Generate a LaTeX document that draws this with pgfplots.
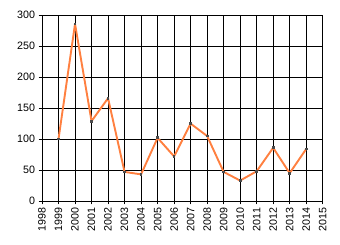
\documentclass[border=0pt]{standalone}
\usepackage{pgfplots}
\pgfplotsset{compat=1.18}
\usepackage{fontspec}
\setmainfont{Liberation Sans}
\definecolor{lineorange}{RGB}{255,128,64}
\begin{document}
\begin{tikzpicture}
\path[use as bounding box] (-42pt,-44pt) rectangle (298pt,201pt);
\begin{axis}[
  at={(0pt,0pt)}, anchor=south west,
  scale only axis, width=280.7pt, height=185.7pt,
  xmin=1998, xmax=2015, ymin=0, ymax=300,
  xtick={1998,1999,...,2015},
  ytick={0,50,...,300},
  /pgf/number format/assume math mode=true,
  /pgf/number format/1000 sep={},
  tick label style={font=\fontsize{10.7pt}{12pt}\selectfont, black},
  xticklabel style={rotate=90, anchor=east},
  grid=major,
  major grid style={black, line width=0.8pt},
  axis line style={black, line width=0.8pt},
  tick style={black, line width=0.8pt},
  tick align=outside,
  major tick length=3.5pt,
  tick pos=left,
]
\addplot[color=lineorange, line width=1.9pt, line join=round, line cap=round,
  mark=square*, mark size=0.9pt,
  mark options={fill=gray!60!black, draw=gray!60!black, line width=0pt}]
coordinates {
(1999,100) (2000,286) (2001,129) (2002,166) (2003,47) (2004,43)
(2005,102) (2006,72) (2007,125) (2008,105) (2009,47) (2010,33)
(2011,48) (2012,86) (2013,45) (2014,84)
};
\end{axis}
\end{tikzpicture}
\end{document}
